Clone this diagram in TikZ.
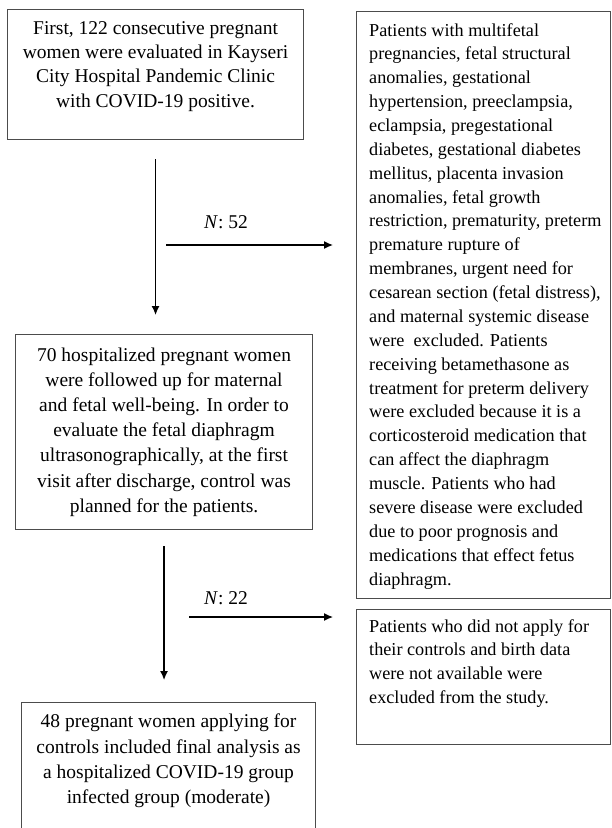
\documentclass[tikz,border=0pt]{standalone}
\usepackage{fontspec}
\setmainfont{Liberation Serif}
\usetikzlibrary{arrows.meta,positioning}

\tikzset{
  box/.style={draw=black!70, line width=1.1bp, rectangle, inner sep=0pt, anchor=north west},
  bigtext/.style={inner sep=0pt, align=center, font=\fontsize{19.5bp}{25.2bp}\selectfont},
  smalltext/.style={inner sep=0pt, align=left, font=\fontsize{18.2bp}{23.87bp}\selectfont},
  count/.style={inner sep=0pt, anchor=base west, font=\fontsize{19.5bp}{24bp}\selectfont},
  flow/.style={-{Latex[length=9bp,width=8bp]}, line width=1.3bp}
}

\begin{document}
\begin{tikzpicture}[x=1bp, y=-1bp]
  \clip (0,0) rectangle (612,828);

  % frames
  \node[box, minimum width=296bp, minimum height=130bp] (first) at (7,9) {};
  \node[box, minimum width=254bp, minimum height=587bp] (excl1) at (356,11) {};
  \node[box, minimum width=297bp, minimum height=195bp] (hosp) at (15,334) {};
  \node[box, minimum width=254bp, minimum height=135bp] (excl2) at (356,609) {};
  \node[box, minimum width=294bp, minimum height=140bp] (final) at (21,702) {};

  % texts
  \node[bigtext, anchor=north, font=\fontsize{19.5bp}{24.4bp}\selectfont] (firsttext) at ([yshift=-12bp]first.north)
    {First, 122 consecutive pregnant\\ women were evaluated in Kayseri\\
     City Hospital Pandemic Clinic\\ with COVID-19 positive.};
  \node[smalltext, anchor=north west] (excl1text) at ([xshift=13bp,yshift=-12bp]excl1.north west)
    {Patients with multifetal\\ pregnancies, fetal structural\\ anomalies, gestational\\
     hypertension, preeclampsia,\\ eclampsia, pregestational\\ diabetes, gestational diabetes\\
     mellitus, placenta invasion\\ anomalies, fetal growth\\ restriction, prematurity, preterm\\
     premature rupture of\\ membranes, urgent need for\\ cesarean section (fetal distress),\\
     and maternal systemic disease\\ were\ \ excluded. Patients\\ receiving betamethasone as\\
     treatment for preterm delivery\\ were excluded because it is a\\ corticosteroid medication that\\
     can affect the diaphragm\\ muscle. Patients who had\\ severe disease were excluded\\
     due to poor prognosis and\\ medications that effect fetus\\ diaphragm.};
  \node[bigtext] (hosptext) at (hosp.center)
    {70 hospitalized pregnant women\\ were followed up for maternal\\ and fetal well-being. In order to\\
     evaluate the fetal diaphragm\\ ultrasonographically, at the first\\ visit after discharge, control was\\
     planned for the patients.};
  \node[smalltext, anchor=north west] (excl2text) at ([xshift=13bp,yshift=-10bp]excl2.north west)
    {Patients who did not apply for\\ their controls and birth data\\ were not available were\\
     excluded from the study.};
  \node[bigtext, anchor=north] (finaltext) at ([yshift=-12bp]final.north)
    {48 pregnant women applying for\\ controls included final analysis as\\
     a hospitalized COVID-19 group\\ infected group (moderate)};

  % flow
  \draw[flow, shorten <=19bp, shorten >=19bp] (first.south) -- (first.south |- hosp.north);
  \draw[flow, shorten <=16bp, shorten >=22bp] (hosp.south) -- (hosp.south |- final.north);

  \coordinate (fork1) at (166,245);
  \coordinate (fork2) at (189,617);
  \draw[flow, shorten >=23bp] (fork1) -- (fork1 -| excl1.west);
  \draw[flow, shorten >=23bp] (fork2) -- (fork2 -| excl2.west);

  \node[count] (n52) at (204,228) {\textit{N}: 52};
  \node[count] (n22) at (204,604) {\textit{N}: 22};
\end{tikzpicture}
\end{document}
